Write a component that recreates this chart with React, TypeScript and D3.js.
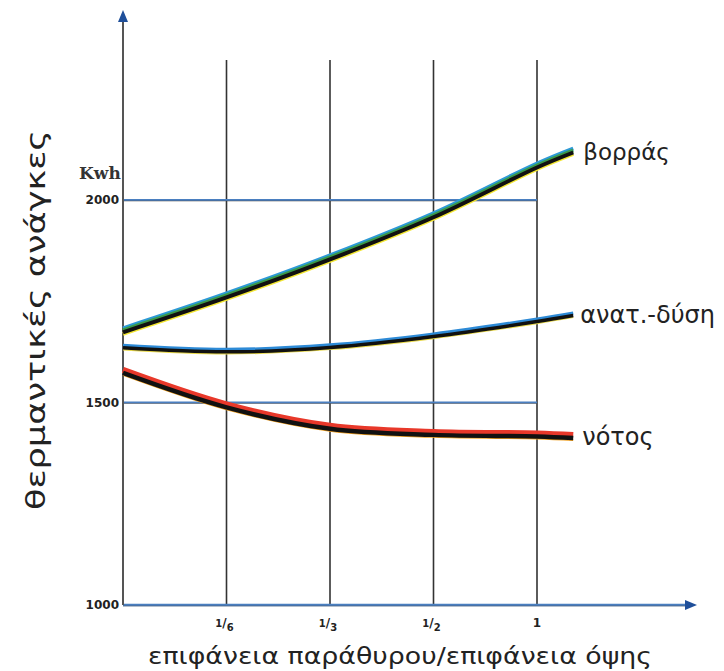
import React from "react";
import * as d3 from "d3";

const xTickLabels = ["1/6", "1/3", "1/2", "1"];
const xTickIndex = [1, 2, 3, 4];
const yTicks = [1000, 1500, 2000];
const yGrid = [1500, 2000];
const seriesX = [0, 1, 2, 3, 4, 4.35];
const northValues = [1677, 1763, 1857, 1961, 2084, 2121];
const eastWestValues = [1637, 1627, 1638, 1665, 1702, 1717];
const southValues = [1578, 1493, 1440, 1425, 1421, 1417];
const seriesNames = ["βορράς", "ανατ.-δύση", "νότος"];

const W = 724, H = 671;
const x = d3.scaleLinear().domain([0, 4]).range([123, 537]);
const y = d3.scaleLinear().domain([1000, 2000]).range([605, 200]);

const line = d3
  .line<[number, number]>()
  .x((d) => x(d[0]))
  .y((d) => y(d[1]))
  .curve(d3.curveCatmullRom.alpha(0.5));

const pts = (vals: number[]) => seriesX.map((xx, i) => [xx, vals[i]] as [number, number]);

export default function App() {
  const font = "'DejaVu Sans', 'Noto Sans', sans-serif";
  const north = line(pts(northValues)) || "";
  const ew = line(pts(eastWestValues)) || "";
  const south = line(pts(southValues)) || "";
  const endX = x(seriesX[seriesX.length - 1]);
  return (
    <svg width={W} height={H} style={{ position: "absolute", left: 0, top: 0, background: "#fff" }}>
      {/* vertical grid */}
      {xTickIndex.map((i) => (
        <line key={"vg" + i} x1={x(i)} x2={x(i)} y1={60} y2={y(1000)} stroke="#333" strokeWidth={1.6} />
      ))}
      {/* horizontal grid */}
      {yGrid.map((v) => (
        <g key={"hg" + v}>
          <line x1={x(0)} x2={x(4)} y1={y(v)} y2={y(v)} stroke="#4a7fc0" strokeWidth={2} />
          <line x1={x(0)} x2={x(4)} y1={y(v) + 1} y2={y(v) + 1} stroke="#444" strokeWidth={0.8} opacity={0.6} />
        </g>
      ))}
      {/* x axis */}
      <line x1={x(0)} x2={690} y1={y(1000)} y2={y(1000)} stroke="#4a7fc0" strokeWidth={2.4} />
      <line x1={x(0)} x2={690} y1={y(1000) + 1} y2={y(1000) + 1} stroke="#444" strokeWidth={0.8} opacity={0.5} />
      <path d={`M697,${y(1000)} L685,${y(1000) - 5} L685,${y(1000) + 5} Z`} fill="#1f4f9a" />
      {/* y axis */}
      <line x1={x(0)} x2={x(0)} y1={20} y2={y(1000)} stroke="#555" strokeWidth={2} />
      <path d={`M${x(0)},10 L${x(0) - 5},22 L${x(0) + 5},22 Z`} fill="#1f4f9a" />

      {/* y tick labels */}
      {yTicks.map((v) => (
        <text key={"yt" + v} x={x(0) - 4} y={y(v) + 4} textAnchor="end" fontFamily={font} fontWeight="bold" fontSize={12} fill="#222">
          {v}
        </text>
      ))}
      <text x={79} y={179} fontFamily="'DejaVu Serif', serif" fontWeight="bold" fontSize={17} fill="#333">Kwh</text>

      {/* x tick labels */}
      {xTickIndex.map((i, k) => {
        const [n, dd] = xTickLabels[k].split("/");
        return (
          <text key={"xt" + i} x={x(i) - (dd ? 2 : 0)} y={630} textAnchor="middle" fontFamily={font} fontWeight="bold" fontSize={12} fill="#222">
            {dd ? (
              <>
                <tspan fontSize={10} dy={-3}>{n}</tspan>
                <tspan fontSize={12} dy={0}>/</tspan>
                <tspan fontSize={10} dy={4}>{dd}</tspan>
              </>
            ) : (
              <tspan dy={-3}>{n}</tspan>
            )}
          </text>
        );
      })}

      {/* north: multi-colour offset strokes */}
      <path d={north} fill="none" stroke="#f2e632" strokeWidth={4} transform="translate(0,3)" />
      <path d={north} fill="none" stroke="#2d9ad6" strokeWidth={4} transform="translate(0,-2.5)" />
      <path d={north} fill="none" stroke="#3a9a4a" strokeWidth={4} transform="translate(0,-0.5)" />
      <path d={north} fill="none" stroke="#111" strokeWidth={4} transform="translate(0,1.5)" />

      {/* east-west */}
      <path d={ew} fill="none" stroke="#e8d84a" strokeWidth={2} transform="translate(0,2.5)" />
      <path d={ew} fill="none" stroke="#2d8ad6" strokeWidth={3.5} transform="translate(0,-1.5)" />
      <path d={ew} fill="none" stroke="#111" strokeWidth={3.5} transform="translate(0,0.8)" />

      {/* south */}
      <path d={south} fill="none" stroke="#f0a020" strokeWidth={2} transform="translate(0,4)" />
      <path d={south} fill="none" stroke="#e8382a" strokeWidth={6} transform="translate(0,-1)" />
      <path d={south} fill="none" stroke="#111" strokeWidth={4.5} transform="translate(0,2)" />

      {/* series labels */}
      <text x={endX + 10} y={y(northValues[5]) + 9} fontFamily={font} fontSize={23} fill="#222">{seriesNames[0]}</text>
      <text x={endX + 7} y={y(eastWestValues[5]) + 8} fontFamily={font} fontSize={24} fill="#222">{seriesNames[1]}</text>
      <text x={endX + 9} y={y(southValues[5]) + 9} fontFamily={font} fontSize={24} fill="#222">{seriesNames[2]}</text>

      {/* axis titles */}
      <text transform="translate(45,320) rotate(-90)" textAnchor="middle" fontFamily={font} fontSize={26} fill="#222" textLength={380} lengthAdjust="spacingAndGlyphs">
        θερμαντικές ανάγκες
      </text>
      <text x={400} y={664} textAnchor="middle" fontFamily={font} fontSize={23} fill="#222" textLength={504} lengthAdjust="spacingAndGlyphs">
        επιφάνεια παράθυρου/επιφάνεια όψης
      </text>
    </svg>
  );
}
